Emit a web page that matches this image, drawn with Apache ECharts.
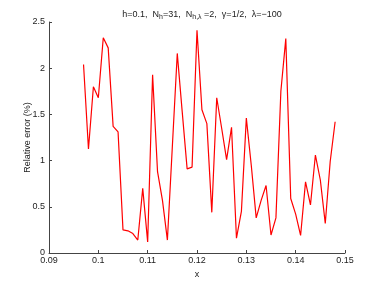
<!DOCTYPE html>
<html>
<head>
<meta charset="utf-8">
<script src="https://cdn.jsdelivr.net/npm/echarts@6/dist/echarts.min.js"></script>
<style>html,body{margin:0;padding:0;background:#fff;}#c{width:382px;height:287px;}</style>
</head>
<body>
<div id="c"></div>
<script>
var xStart = 0.097;
var xStep = 0.001;
var errorValues = [2.04, 1.125, 1.80, 1.68, 2.33, 2.22, 1.37, 1.31, 0.25, 0.24,
  0.21, 0.14, 0.70, 0.12, 1.93, 0.88, 0.57, 0.14, 1.15, 2.16,
  1.53, 0.91, 0.93, 2.41, 1.55, 1.40, 0.44, 1.68, 1.35, 1.01,
  1.36, 0.16, 0.45, 1.46, 0.95, 0.38, 0.57, 0.73, 0.195, 0.38,
  1.75, 2.32, 0.59, 0.42, 0.19, 0.77, 0.52, 1.06, 0.79, 0.32,
  0.99, 1.42];
var xTicks = [0.09, 0.1, 0.11, 0.12, 0.13, 0.14, 0.15];
var yTicks = [0, 0.5, 1, 1.5, 2, 2.5];

var pts = errorValues.map(function (v, i) {
  return [+(xStart + i * xStep).toFixed(4), v];
});

var chart = echarts.init(document.getElementById('c'), null, {renderer: 'canvas'});
var font = 'Liberation Sans, Arial, sans-serif';
chart.setOption({
  animation: false,
  backgroundColor: '#fff',
  title: {
    text: '{t|h=0.1,  N}{s|h}{t|=31,  N}{s|h,λ}{t| =2,  γ=1/2,  λ=−100}',
    left: 197, textAlign: 'center', top: 3,
    textStyle: {
      fontWeight: 'normal',
      rich: {
        t: {fontSize: 9, fontFamily: font, color: '#222', fontWeight: 'normal'},
        s: {fontSize: 7, fontFamily: font, color: '#222', fontWeight: 'normal', verticalAlign: 'bottom', padding: [6, 0, 0, 0]}
      }
    }
  },
  grid: {left: 49, right: 37, top: 22, bottom: 34, containLabel: false},
  xAxis: {
    type: 'value', min: xTicks[0], max: xTicks[xTicks.length - 1], interval: 0.01,
    name: 'x', nameLocation: 'middle', nameGap: 14,
    nameTextStyle: {fontSize: 9, fontFamily: font, color: '#222'},
    axisLine: {lineStyle: {color: '#444', width: 1}},
    axisTick: {inside: true, length: 3, lineStyle: {color: '#444'}},
    axisLabel: {fontSize: 9, fontFamily: font, color: '#222', margin: 3,
      formatter: function (v) { return String(+v.toFixed(2)); }},
    splitLine: {show: false}
  },
  yAxis: {
    type: 'value', min: yTicks[0], max: yTicks[yTicks.length - 1], interval: 0.5,
    name: 'Relative error (%)', nameLocation: 'middle', nameGap: 17, nameMoveOverlap: false,
    nameTextStyle: {fontSize: 9, fontFamily: font, color: '#222'},
    axisLine: {show: true, lineStyle: {color: '#444', width: 1}},
    axisTick: {show: true, inside: true, length: 3, lineStyle: {color: '#444'}},
    axisLabel: {fontSize: 9, fontFamily: font, color: '#222', margin: 4},
    splitLine: {show: false}
  },
  series: [{
    type: 'line', data: pts, showSymbol: false, symbol: 'none',
    lineStyle: {color: '#ff0000', width: 1.2}
  }]
});
</script>
</body>
</html>
